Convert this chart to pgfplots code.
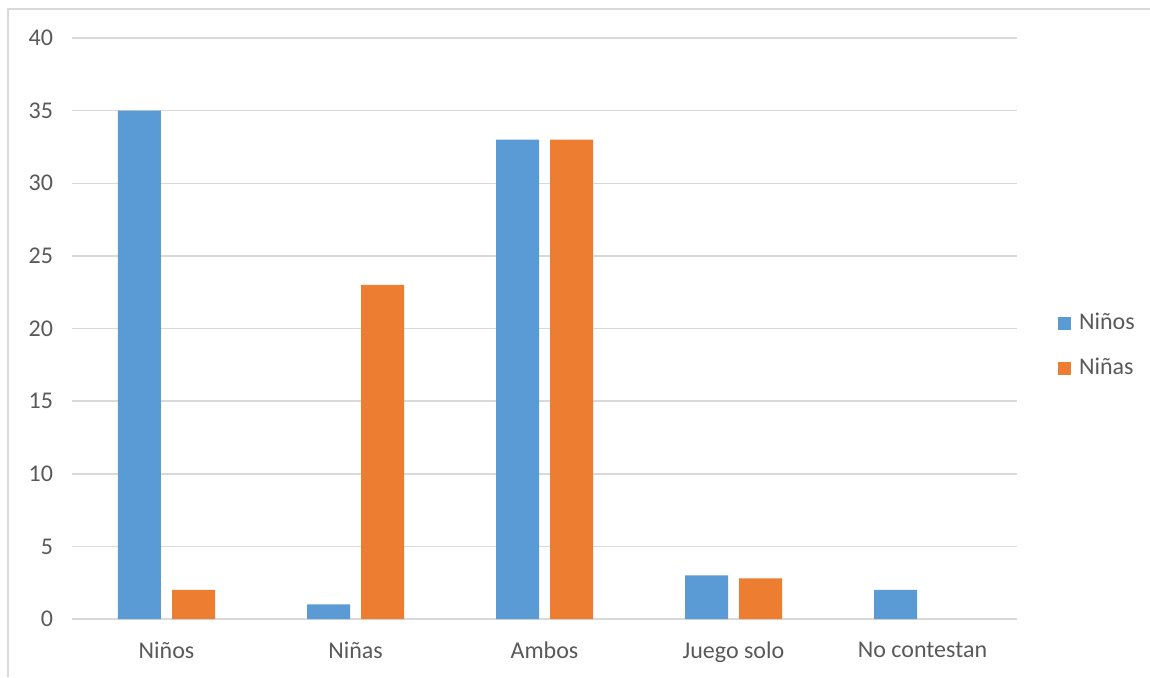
\documentclass[border=0pt]{standalone}
\usepackage{fontspec}
\setmainfont{Carlito}
\usepackage{pgfplots}
\pgfplotsset{compat=1.18}
\definecolor{cblue}{RGB}{91,155,213}
\definecolor{corange}{RGB}{237,125,49}
\definecolor{cgrid}{RGB}{217,217,217}
\definecolor{ctext}{RGB}{89,89,89}
\begin{document}
% 1px of the reference = 0.5pt
\begin{tikzpicture}
\useasboundingbox (0,0) rectangle (575pt,338.5pt);
\draw[cgrid,line width=0.75pt] (4pt,0pt) -- (4pt,334pt) -- (575pt,334pt);
\begin{axis}[
    at={(36pt,29pt)}, anchor=south west,
    scale only axis,
    width=472.5pt, height=290.5pt,
    ybar=5.5pt,
    bar width=21.5pt,
    xmin=-0.5, xmax=4.5,
    ymin=0, ymax=40,
    ytick={0,5,...,40},
    xtick=data,
    xticklabels={Niños,Niñas,Ambos,Juego solo,No contestan},
    ymajorgrids,
    major grid style={cgrid,line width=0.75pt},
    axis line style={draw=none},
    tick style={draw=none},
    font=\fontsize{12pt}{14pt}\selectfont,
    ticklabel style={text=ctext},
    /pgf/number format/assume math mode=true,
    yticklabel style={xshift=-6pt},
    xticklabel style={yshift=-3.5pt},
    legend style={at={(rel axis cs:1.043,0.4705)}, anchor=west,
        draw=none, fill=none, inner sep=0pt, row sep=11.5pt,
        nodes={inner sep=0pt, text=ctext, text height=8.5pt, text depth=2.5pt},
        /tikz/every odd column/.append style={column sep=4pt}},
    legend cell align=left,
    legend image code/.code={\fill[#1] (0pt,-3.25pt) rectangle (6.5pt,3.25pt);},
]
\addplot[fill=cblue,draw=none] coordinates {(0,35) (1,1) (2,33) (3,3) (4,2)};
\addplot[fill=corange,draw=none] coordinates {(0,2) (1,23) (2,33) (3,2.8)};
\legend{Niños,Niñas}
\end{axis}
\end{tikzpicture}
\end{document}
